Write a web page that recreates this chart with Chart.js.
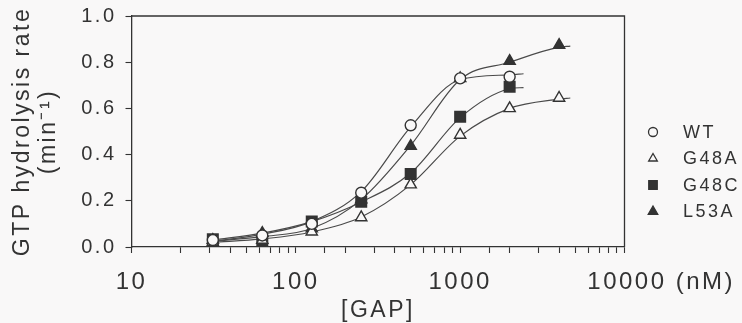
<!DOCTYPE html>
<html>
<head>
<meta charset="UTF-8">
<title>GTP hydrolysis vs GAP</title>
<script src="https://cdn.jsdelivr.net/npm/chart.js"></script>
<style>
  * { margin: 0; padding: 0; box-sizing: border-box; }
  body { background: #f9f8f8; }
  #wrap { width: 742px; height: 323px; }
</style>
</head>
<body>
<div id="wrap"><canvas id="chart"></canvas></div>
<script>
  // [GAP] in nM, measured points
  const gapConc = [31.25, 62.5, 125, 250, 500, 1000, 2000, 4000];
  const wt   = [0.03, 0.05, 0.10, 0.235, 0.527, 0.73, 0.737];
  const g48a = [0.02, 0.03, 0.066, 0.128, 0.27, 0.485, 0.60, 0.645];
  const g48c = [0.033, 0.025, 0.11, 0.196, 0.316, 0.564, 0.694];
  const l53a = [0.03, 0.06, 0.08, 0.205, 0.437, 0.73, 0.805, 0.874];

  // fitted curves
  const fitXShort = [31.25, 62.5, 125, 250, 500, 1000, 2000, 2430];
  const fitXLong  = [31.25, 62.5, 125, 250, 500, 1000, 2000, 4000, 4680];
  const wtFit   = [0.025, 0.055, 0.11, 0.24, 0.52, 0.725, 0.745, 0.75];
  const g48aFit = [0.02, 0.035, 0.065, 0.13, 0.27, 0.48, 0.60, 0.64, 0.645];
  const g48cFit = [0.03, 0.06, 0.11, 0.195, 0.32, 0.56, 0.685, 0.69];
  const l53aFit = [0.025, 0.045, 0.08, 0.205, 0.44, 0.725, 0.80, 0.865, 0.87];

  const xMajor = [10, 100, 1000, 10000];
  const xLabels = ['10', '100', '1000', '        10000 (nM)'];
  const yTitle = ['GTP hydrolysis rate', '(min\u207B\u00B9)'];
  const xTitle = '[GAP]';

  const INK = '#333333';
  const LINE = '#4a4a4a';
  const PAPER = '#f9f8f8';
  const FONT = "'Liberation Sans', Arial, sans-serif";
  const SPACING = '2.5px'; // the scanned figure has widely spaced lettering

  const pts = (xs, ys) => ys.map((y, i) => ({ x: xs[i], y }));

  const series = [
    { label: 'WT',   data: wt,   fit: wtFit,   fx: fitXShort, style: 'circle',   fill: PAPER, r: 5.5, lr: 4.5 },
    { label: 'G48A', data: g48a, fit: g48aFit, fx: fitXLong,  style: 'triangle', fill: PAPER, r: 6.5, lr: 5 },
    { label: 'G48C', data: g48c, fit: g48cFit, fx: fitXShort, style: 'rect',     fill: INK,   r: 7.5, lr: 6 },
    { label: 'L53A', data: l53a, fit: l53aFit, fx: fitXLong,  style: 'triangle', fill: INK,   r: 6.5, lr: 5.5 },
  ];

  const datasets = [];
  series.forEach(s => {
    datasets.push({
      label: s.label + ' fit',
      data: pts(s.fx, s.fit),
      showLine: true,
      borderColor: LINE,
      borderWidth: 1.2,
      pointRadius: 0,
      cubicInterpolationMode: 'monotone',
      order: 2,
    });
    datasets.push({
      label: s.label,
      data: pts(gapConc, s.data),
      showLine: false,
      pointStyle: s.style,
      pointRadius: s.r,
      pointBackgroundColor: s.fill,
      pointBorderColor: INK,
      pointBorderWidth: 1.4,
      order: 1,
    });
  });

  // letter spacing has to be set again after every canvas resize
  const spacingPlugin = {
    id: 'spacing',
    beforeUpdate(chart) { chart.ctx.letterSpacing = SPACING; },
    beforeLayout(chart) { chart.ctx.letterSpacing = SPACING; },
    beforeDraw(chart) { chart.ctx.letterSpacing = SPACING; },
  };

  // top and right frame lines
  const framePlugin = {
    id: 'frame',
    afterDraw(chart) {
      const { ctx, chartArea: a } = chart;
      ctx.save();
      ctx.strokeStyle = INK;
      ctx.lineWidth = 1.3;
      ctx.beginPath();
      ctx.moveTo(a.left, a.top);
      ctx.lineTo(a.right, a.top);
      ctx.lineTo(a.right, a.bottom);
      ctx.stroke();
      ctx.restore();
    }
  };

  // legend to the right of the plot
  const legendPlugin = {
    id: 'sideLegend',
    afterDraw(chart) {
      const ctx = chart.ctx;
      ctx.save();
      ctx.font = "18px " + FONT;
      ctx.textBaseline = 'middle';
      series.forEach((s, i) => {
        const y = 132 + i * 26.5;
        ctx.lineWidth = 1.3;
        ctx.strokeStyle = INK;
        ctx.fillStyle = s.fill;
        Chart.helpers.drawPoint(ctx, { pointStyle: s.style, radius: s.lr, borderWidth: 1.3 }, 653, y);
        ctx.fillStyle = INK;
        ctx.fillText(s.label, 683, y + 1);
      });
      ctx.restore();
    }
  };

  new Chart(document.getElementById('chart'), {
    type: 'scatter',
    data: { datasets },
    plugins: [spacingPlugin, framePlugin, legendPlugin],
    options: {
      responsive: true,
      maintainAspectRatio: false,
      animation: false,
      layout: { padding: { top: 16, right: 117.5, bottom: 0, left: 0 } },
      plugins: { legend: { display: false }, tooltip: { enabled: false } },
      scales: {
        x: {
          type: 'logarithmic',
          min: 10,
          max: 10000,
          afterFit: s => { s.height = 76; s.paddingLeft = 0; s.paddingRight = 0; },
          border: { display: true, color: INK, width: 1.3 },
          grid: { drawOnChartArea: false, drawTicks: true, tickLength: 6, color: INK, tickWidth: 1.1 },
          ticks: {
            autoSkip: false,
            maxRotation: 0,
            padding: 15,
            color: INK,
            font: { family: FONT, size: 24 },
            callback: v => {
              const i = xMajor.indexOf(v);
              return i >= 0 ? xLabels[i] : '';
            }
          },
          title: {
            display: true,
            text: xTitle,
            color: INK,
            font: { family: FONT, size: 23, lineHeight: 1 },
            padding: { top: 0, bottom: 1 }
          }
        },
        y: {
          min: 0,
          max: 1,
          afterFit: s => { s.width = 131.5; s.paddingTop = 0; s.paddingBottom = 0; },
          border: { display: true, color: INK, width: 1.3 },
          grid: { drawOnChartArea: false, drawTicks: true, tickLength: 6, color: INK, tickWidth: 1.1 },
          ticks: {
            stepSize: 0.1,
            padding: 9,
            color: INK,
            font: { family: FONT, size: 20 },
            callback: v => (Math.round(v * 10) % 2 === 0 ? v.toFixed(1) : '')
          },
          title: {
            display: true,
            text: yTitle,
            color: INK,
            font: { family: FONT, size: 23, lineHeight: 1.15 },
            padding: { top: 9, bottom: 0 }
          }
        }
      }
    }
  });
</script>
</body>
</html>
